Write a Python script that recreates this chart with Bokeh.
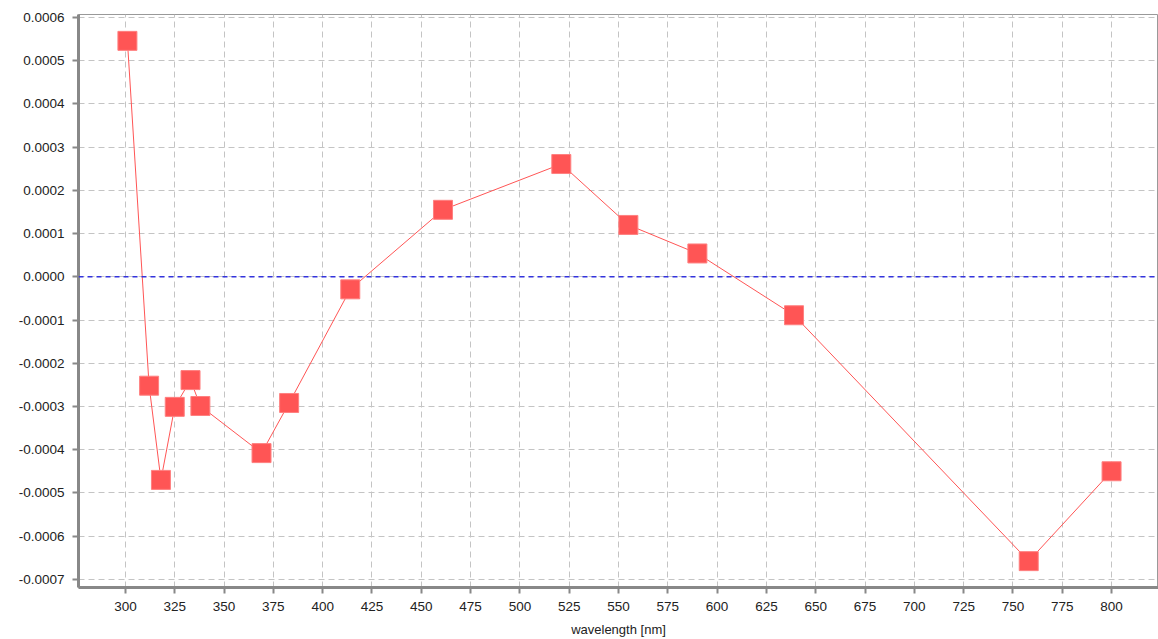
from bokeh.plotting import figure
from bokeh.models import SingleIntervalTicker, PrintfTickFormatter, Span, ColumnDataSource, Range1d
from bokeh.embed import file_html
from bokeh.resources import INLINE

wavelength = [301, 312, 318, 325, 333, 338, 369, 383, 414, 461, 521, 555, 590, 639, 758, 800]
signal = [0.000546, -0.000252, -0.000470, -0.000301, -0.000239, -0.000299, -0.000408, -0.000292,
          -0.000029, 0.000155, 0.000261, 0.000120, 0.000054, -0.000089, -0.000658, -0.000450]

src = ColumnDataSource(dict(x=wavelength, y=signal))

p = figure(width=1158, height=639, output_backend="svg", toolbar_location=None,
           x_range=Range1d(276.2, 823.8), y_range=Range1d(-0.000719, 0.000607),
           min_border_left=78, min_border_right=0, min_border_top=14, min_border_bottom=45)

p.background_fill_color = "white"
p.border_fill_color = "white"
p.outline_line_color = "#999999"
p.outline_line_width = 1

for ax in (p.xaxis, p.yaxis):
    ax.axis_line_color = "#888888"
    ax.axis_line_width = 3
    ax.major_tick_line_color = "#888888"
    ax.major_tick_line_width = 2
    ax.major_tick_out = 6
    ax.major_tick_in = 0
    ax.minor_tick_line_color = None
    ax.major_label_text_font = "Liberation Sans"
    ax.major_label_text_font_size = "13.5px"
    ax.major_label_text_color = "#222222"

p.xaxis.ticker = SingleIntervalTicker(interval=25)
p.yaxis.ticker = SingleIntervalTicker(interval=0.0001)
p.yaxis.formatter = PrintfTickFormatter(format="%.4f")
p.xaxis.axis_label = "wavelength [nm]"
p.xaxis.axis_label_text_font = "Liberation Sans"
p.xaxis.axis_label_text_font_size = "13px"
p.xaxis.axis_label_text_font_style = "normal"
p.xaxis.axis_label_text_color = "#222222"
p.xaxis.axis_label_standoff = 8
p.xaxis.major_label_standoff = 8
p.yaxis.major_label_standoff = 8

for g in (p.xgrid, p.ygrid):
    g.grid_line_color = "#c4c4c4"
    g.grid_line_dash = "6 4"
    g.grid_line_width = 1

p.add_layout(Span(location=0, dimension="width", line_color="#3333dd", line_dash="5 4", line_width=1.5))

p.line("x", "y", source=src, line_color="#ff5555", line_width=1)
p.scatter("x", "y", source=src, marker="square", size=19, fill_color="#ff5555",
          line_color="#ff8080", line_width=1)

open("out.html", "w").write(file_html(p, INLINE))
